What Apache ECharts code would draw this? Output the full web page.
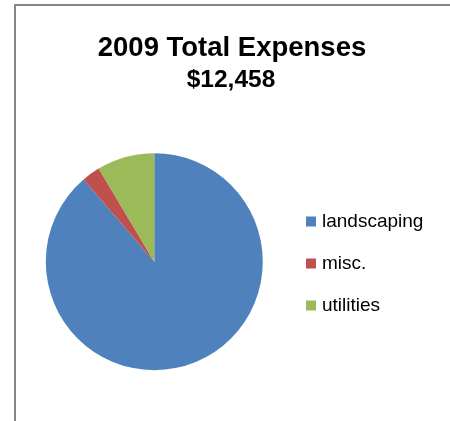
<!DOCTYPE html>
<html><head><meta charset="utf-8">
<script src="https://cdn.jsdelivr.net/npm/echarts@6/dist/echarts.min.js"></script>
<style>html,body{margin:0;padding:0;background:#fff}#c{width:450px;height:421px}</style>
</head><body><div id="c"></div>
<script>
const categories = ['landscaping', 'misc.', 'utilities'];
const values = [11050, 340, 1068];
const colors = ['#4F81BD', '#C0504D', '#9BBB59'];
const titleText = '2009 Total Expenses';
const subtitleText = '$12,458';

const chart = echarts.init(document.getElementById('c'));
const FONT = 'Liberation Sans';
chart.setOption({
  animation: false,
  backgroundColor: '#fff',
  graphic: [{
    type: 'rect',
    shape: { x: 15, y: 5, width: 500, height: 500 },
    style: { fill: 'none', stroke: '#868686', lineWidth: 2 },
    silent: true
  }],
  title: [{
    text: titleText,
    left: 232, textAlign: 'center', top: 34, padding: 0,
    textStyle: { fontFamily: FONT, fontWeight: 'bold', fontSize: 27.5, color: '#000' }
  }, {
    text: subtitleText,
    left: 231, textAlign: 'center', top: 68, padding: 0,
    textStyle: { fontFamily: FONT, fontWeight: 'bold', fontSize: 24.5, color: '#000' }
  }],
  legend: {
    orient: 'vertical', left: 306, top: 212, padding: 0,
    itemWidth: 10, itemHeight: 10, itemGap: 23,
    icon: 'rect',
    textStyle: { fontFamily: FONT, fontSize: 19, color: '#000', padding: [0,0,0,1] },
    data: categories
  },
  series: [{
    type: 'pie',
    center: [154.3, 261.7], radius: 108.5,
    startAngle: 90, clockwise: true,
    label: { show: false }, labelLine: { show: false },
    emphasis: { disabled: true },
    itemStyle: { borderWidth: 0 },
    data: categories.map((n, i) => ({ name: n, value: values[i], itemStyle: { color: colors[i] } }))
  }]
});
</script></body></html>
